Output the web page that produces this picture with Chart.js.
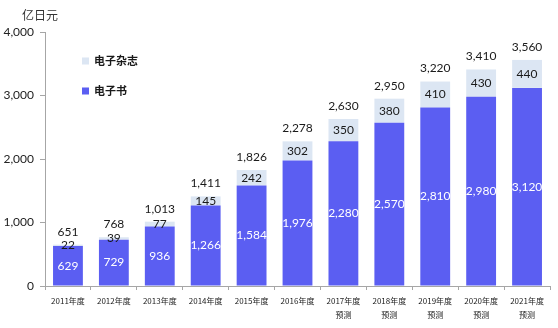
<!DOCTYPE html>
<html>
<head>
<meta charset="utf-8">
<script src="https://cdn.jsdelivr.net/npm/chart.js@4/dist/chart.umd.min.js"></script>
<style>
  body { margin: 0; background: #fff; }
</style>
</head>
<body>
<canvas id="chart" width="558" height="328"></canvas>
<script>
const years = ['2011年度', '2012年度', '2013年度', '2014年度', '2015年度', '2016年度',
               '2017年度', '2018年度', '2019年度', '2020年度', '2021年度'];
const forecastFrom = 6;  // 2017年度 onward are forecasts
const ebook = [629, 729, 936, 1266, 1584, 1976, 2280, 2570, 2810, 2980, 3120];
const magazine = [22, 39, 77, 145, 242, 302, 350, 380, 410, 430, 440];
const totals = [651, 768, 1013, 1411, 1826, 2278, 2630, 2950, 3220, 3410, 3560];
const yTicks = [0, 1000, 2000, 3000, 4000];

const NUM_FONT = 'Lato, "Open Sans", sans-serif';
const CJK_FONT = '"Noto Sans CJK SC", sans-serif';
const AXIS_COLOR = '#a6a6a6';

const labels = years.map((y, i) => i >= forecastFrom ? [y, '预测'] : y);

// numbers inside each segment and the total above each stack
const valueLabels = {
    id: 'valueLabels',
    afterDatasetsDraw(chart) {
        const ctx = chart.ctx;
        ctx.save();
        ctx.font = '12px ' + NUM_FONT;
        ctx.textAlign = 'center';
        ctx.textBaseline = 'middle';
        chart.data.datasets.forEach((ds, i) => {
            chart.getDatasetMeta(i).data.forEach((bar, j) => {
                ctx.fillStyle = ds.labelColor;
                ctx.fillText(ds.data[j].toLocaleString('en-US'), bar.x, (bar.y + bar.base) / 2);
            });
        });
        ctx.fillStyle = '#1a1a1a';
        chart.getDatasetMeta(1).data.forEach((bar, j) => {
            ctx.fillText(totals[j].toLocaleString('en-US'), bar.x, bar.y - 13);
        });
        ctx.restore();
    }
};

// unit text and the legend box placed inside the plot, top-left
const unitAndLegend = {
    id: 'unitAndLegend',
    afterDraw(chart) {
        const ctx = chart.ctx;
        const area = chart.chartArea;
        ctx.save();
        ctx.textBaseline = 'middle';
        ctx.fillStyle = '#333';
        ctx.font = '12px ' + CJK_FONT;
        ctx.textAlign = 'center';
        ctx.fillText('亿日元', area.left - 5, 15);

        const items = [1, 0];  // magazine on top, ebook below
        ctx.font = 'bold 11px ' + CJK_FONT;
        ctx.textAlign = 'left';
        items.forEach((idx, k) => {
            const ds = chart.data.datasets[idx];
            const y = 61 + k * 30;
            ctx.fillStyle = ds.backgroundColor;
            ctx.fillRect(area.left + 37, y - 3.5, 7, 7);
            ctx.fillStyle = '#1a1a1a';
            ctx.fillText(ds.label, area.left + 49, y);
        });
        ctx.restore();
    }
};

new Chart(document.getElementById('chart'), {
    type: 'bar',
    data: {
        labels: labels,
        datasets: [
            {
                label: '电子书',
                data: ebook,
                backgroundColor: '#5b5ef2',
                labelColor: '#ffffff',
                barPercentage: 0.65,
                categoryPercentage: 1
            },
            {
                label: '电子杂志',
                data: magazine,
                backgroundColor: '#dce6f3',
                labelColor: '#1a1a1a',
                barPercentage: 0.65,
                categoryPercentage: 1
            }
        ]
    },
    options: {
        responsive: false,
        animation: false,
        layout: { padding: { top: 32, right: 8, left: 0, bottom: 0 } },
        plugins: {
            legend: { display: false },
            tooltip: { enabled: false }
        },
        scales: {
            x: {
                stacked: true,
                grid: { drawOnChartArea: false, tickLength: 4, color: AXIS_COLOR },
                border: { color: AXIS_COLOR },
                ticks: {
                    color: '#222',
                    font: { family: CJK_FONT, size: 8, lineHeight: 1.75 },
                    padding: 4,
                    maxRotation: 0,
                    autoSkip: false
                },
                afterFit(scale) { scale.height = 42; }
            },
            y: {
                stacked: true,
                min: 0,
                max: 4000,
                grid: { drawOnChartArea: false, tickLength: 5, color: AXIS_COLOR },
                border: { color: AXIS_COLOR },
                afterBuildTicks(scale) { scale.ticks = yTicks.map(v => ({ value: v })); },
                ticks: {
                    color: '#222',
                    font: { family: NUM_FONT, size: 12 },
                    padding: 6,
                    callback: v => v.toLocaleString('en-US')
                },
                afterFit(scale) { scale.width = 45; }
            }
        }
    },
    plugins: [valueLabels, unitAndLegend]
});
</script>
</body>
</html>
